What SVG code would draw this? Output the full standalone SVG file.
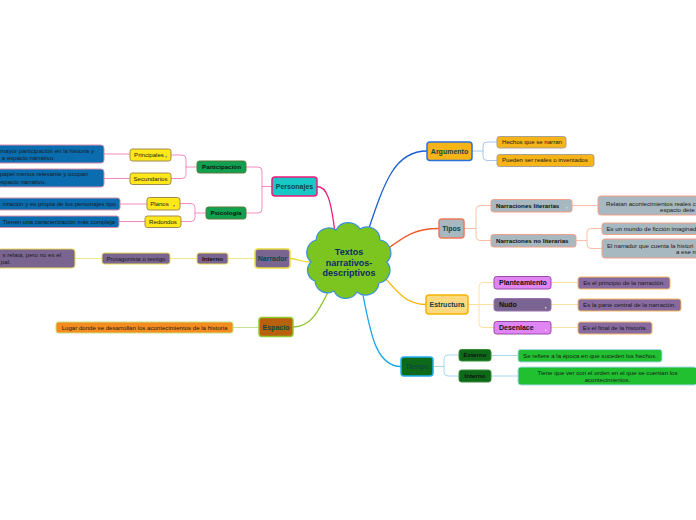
<svg xmlns="http://www.w3.org/2000/svg" width="696" height="520" viewBox="0 0 696 520">
<style>
text{font-family:"Liberation Sans",Arial,sans-serif}
.main{font-size:7px;font-weight:bold;fill:#0e4545;text-anchor:middle}
.l2{font-size:6.2px;font-weight:bold;fill:#111;text-anchor:middle}
.l2s{font-size:6.2px;font-weight:bold;fill:#111}
.lf{font-size:6.1px;fill:#1a1a1a;text-anchor:middle}
.lfe{font-size:6.1px;fill:#1a1a1a;text-anchor:end}
.lfs{font-size:6.1px;fill:#1a1a1a}
.con{fill:none;stroke-width:1.3;stroke-linecap:round}
.sub{fill:none;stroke-width:1;stroke-linecap:round}
</style>
<rect width="696" height="520" fill="#ffffff"/>
<g id="connectors">
<path class="con" stroke="#ee1a7a" d="M317 186.5 C327 186.5 331 200 335 233"/>
<path class="con" stroke="#e8d820" d="M290 258.5 C298 258.5 301 262 309 262"/>
<path class="con" stroke="#8ec228" d="M293 327 C312 327 319 310 330 288"/>
<path class="con" stroke="#1a5ed0" d="M367 234 C385 180 395 151 427 151"/>
<path class="con" stroke="#f05a28" d="M386 250 C405 236 415 228.5 439 228.5"/>
<path class="con" stroke="#f5b400" d="M386 279 C400 295 408 304.5 426 304.5"/>
<path class="con" stroke="#1aa8e8" d="M362 290 C370 330 375 366.5 401 366.5"/>
<g stroke="#f48cc0">
<path class="sub" d="M272 186.5 H262 M246 167 H258 Q262 167 262 171 V209 Q262 213 258 213 H246"/>
<path class="sub" d="M197 167 H186 M171 155 H182 Q186 155 186 159 V174.5 Q186 178.5 182 178.5 H171"/>
<path class="sub" d="M206 213 H195 M180 203.5 H191 Q195 203.5 195 207.5 V217.5 Q195 221.5 191 221.5 H181"/>
<path class="sub" d="M130 154 H104 M130 178.5 H104 M147 204 H120 M145 221.5 H119"/>
</g>
<path class="sub" stroke="#f3e98a" d="M255 258.5 H228 M197 258.5 H170 M102 258.5 H75"/>
<path class="sub" stroke="#c8e090" d="M259 327.5 H233"/>
<path class="sub" stroke="#a8c8f0" d="M472 151 H483 M497 142 H487 Q483 142 483 146 V156.5 Q483 160.5 487 160.5 H497"/>
<g stroke="#f8c0a8">
<path class="sub" d="M464 228.5 H476 M491 205.5 H480 Q476 205.5 476 209.5 V236.5 Q476 240.5 480 240.5 H491"/>
<path class="sub" d="M572 205.5 H598 M576 240.5 H587 M602 228.5 H591 Q587 228.5 587 232.5 V244.5 Q587 248.5 591 248.5 H602"/>
</g>
<g stroke="#fde0a0">
<path class="sub" d="M468 304.5 H479 M494 282.5 H483 Q479 282.5 479 286.5 V323.5 Q479 327.5 483 327.5 H494 M479 304.5 H494"/>
<path class="sub" d="M551 282.5 H578 M551 304.5 H578 M551 327.5 H578"/>
</g>
<g stroke="#a8d8f0">
<path class="sub" d="M433 366.5 H444 M459 355 H448 Q444 355 444 359 V372 Q444 376 448 376 H459"/>
<path class="sub" d="M491 355.5 H518 M491 376 H518"/>
</g>
</g>
<g id="center">
<path d="M311 262 A13 13 0 0 1 316 240 A13 13 0 0 1 336 230 A14 14 0 0 1 360 229 A13 13 0 0 1 380 240 A13 13 0 0 1 387 262 A13 13 0 0 1 379 283 A13.5 13.5 0 0 1 357 292 A13 13 0 0 1 334 291 A12.5 12.5 0 0 1 315 281 A11.5 11.5 0 0 1 311 262 Z" fill="#7cc520" stroke="#3a8fd6" stroke-width="1.2"/>
<text x="349" y="255" font-size="9" font-weight="bold" fill="#0b2a66" text-anchor="middle">Textos</text>
<text x="349" y="265.5" font-size="9" font-weight="bold" fill="#0b2a66" text-anchor="middle">narrativos-</text>
<text x="349" y="276" font-size="9" font-weight="bold" fill="#0b2a66" text-anchor="middle">descriptivos</text>
</g>
<g id="personajes">
<rect x="272" y="177" width="45" height="19" rx="3" fill="#18c8c4" stroke="#ee1a7a" stroke-width="1.5"/>
<text class="main" x="294.5" y="189">Personajes</text>
</g>
<g id="participacion">
<rect x="197" y="161" width="49" height="12" rx="2.5" fill="#10a050" stroke="#5a7a3a"/>
<text class="l2" x="221.5" y="169.2">Participación</text>
</g>
<g id="psicologia">
<rect x="206" y="207" width="40" height="12" rx="2.5" fill="#10a050" stroke="#5a7a3a"/>
<text class="l2" x="226" y="215.2">Psicología</text>
</g>
<g id="principales">
<rect x="130" y="149" width="41" height="12" rx="2.5" fill="#ffe81a" stroke="#a08a50"/>
<text class="lf" x="149" y="157.1">Principales</text>
<rect x="165.5" y="156" width="1.4" height="1.4" fill="#777"/>
</g>
<g id="secundarios">
<rect x="130" y="173" width="41" height="11.5" rx="2.5" fill="#ffe81a" stroke="#a08a50"/>
<text class="lf" x="150.5" y="180.8">Secundarios</text>
</g>
<g id="planos">
<rect x="147" y="197.5" width="33" height="12.5" rx="2.5" fill="#ffe81a" stroke="#a08a50"/>
<text class="lf" x="159.5" y="205.8">Planos</text>
<rect x="173.5" y="205" width="1.4" height="1.4" fill="#777"/>
</g>
<g id="redondos">
<rect x="145" y="216" width="36" height="11.5" rx="2.5" fill="#ffe81a" stroke="#a08a50"/>
<text class="lf" x="163" y="223.8">Redondos</text>
</g>
<g id="leaf-principales">
<rect x="-10" y="145" width="114" height="18" rx="3" fill="#0a6db0" stroke="#d88aa8"/>
<text class="lfe" x="94" y="153">mayor participación en la historia y</text>
<text class="lfe" x="55" y="159.8">a espacio narrativo.</text>
</g>
<g id="leaf-secundarios">
<rect x="-10" y="169" width="114" height="18" rx="3" fill="#0a6db0" stroke="#d88aa8"/>
<text class="lfe" x="88" y="176.4">papel menos relevante y ocupan</text>
<text class="lfe" x="46" y="183.6">espacio narrativo.</text>
</g>
<g id="leaf-planos">
<rect x="-10" y="198" width="130" height="12" rx="2.5" fill="#0a6db0" stroke="#d88aa8"/>
<text class="lfe" x="116" y="206">rización y es propia de los personajes tipo</text>
</g>
<g id="leaf-redondos">
<rect x="-4" y="216" width="123" height="11.5" rx="2.5" fill="#0a6db0" stroke="#d88aa8"/>
<text class="lfe" x="115" y="223.8">Tienen una caracterización más compleja</text>
</g>
<g id="narrador">
<rect x="255" y="249" width="35" height="19" rx="3" fill="#7a6591" stroke="#e8dc40" stroke-width="1.5"/>
<text class="main" x="272.5" y="261">Narrador</text>
</g>
<g id="interno-narrador">
<rect x="197" y="253" width="31" height="11" rx="2.5" fill="#7a6591" stroke="#e8d858"/>
<text class="l2" x="212.5" y="260.7">Interno</text>
</g>
<g id="protagonista">
<rect x="102" y="253" width="68" height="11" rx="2.5" fill="#7a6591" stroke="#e8d858"/>
<text class="lf" x="136" y="260.6">Protagonista o testigo</text>
</g>
<g id="leaf-narrador">
<rect x="-10" y="249" width="85" height="19" rx="3" fill="#7a6591" stroke="#e8d858"/>
<text class="lfe" x="61" y="257">s relata, pero no es el</text>
<text class="lfe" x="10.7" y="264.3">pal.</text>
</g>
<g id="espacio">
<rect x="259" y="317.5" width="34" height="19" rx="3" fill="#b8600c" stroke="#90c830" stroke-width="1.5"/>
<text class="main" x="276" y="329.5">Espacio</text>
</g>
<g id="leaf-espacio">
<rect x="56" y="322" width="177" height="11" rx="2.5" fill="#f58c20" stroke="#c8e080"/>
<text class="lf" x="144.5" y="329.6">Lugar donde se desarrollan los acontecimientos de la historia</text>
</g>
<g id="argumento">
<rect x="427" y="142" width="45" height="18.5" rx="3" fill="#f7b418" stroke="#2a70d8" stroke-width="1.5"/>
<text class="main" x="449.5" y="153.7">Argumento</text>
</g>
<g id="hechos">
<rect x="497" y="136.5" width="69" height="11.5" rx="2.5" fill="#f7b418" stroke="#a8a090"/>
<text class="lfs" x="502" y="144.3">Hechos que se narran</text>
</g>
<g id="pueden">
<rect x="497" y="154.5" width="97" height="12" rx="2.5" fill="#f7b418" stroke="#a8a090"/>
<text class="lfs" x="502" y="162.4">Pueden ser reales o inventados</text>
</g>
<g id="tipos">
<rect x="439" y="219" width="25" height="19" rx="3" fill="#a8b8c0" stroke="#f07858" stroke-width="1.5"/>
<text class="main" x="451.5" y="231">Tipos</text>
</g>
<g id="literarias">
<rect x="491" y="199.5" width="81" height="12.5" rx="2.5" fill="#a8b8c0" stroke="#f4a088"/>
<text class="l2s" x="496" y="207.8">Narraciones literarias</text>
<rect x="566" y="207" width="1.4" height="1.4" fill="#ddd"/>
</g>
<g id="no-literarias">
<rect x="491" y="234.5" width="85" height="12.5" rx="2.5" fill="#a8b8c0" stroke="#f4a088"/>
<text class="l2s" x="496" y="242.8">Narraciones no literarias</text>
</g>
<g id="leaf-literarias">
<rect x="598" y="196" width="110" height="19" rx="3" fill="#a8b8c0" stroke="#f4a088"/>
<text class="lfs" x="606" y="206">Relatan acontecimientos reales c</text>
<text class="lfs" x="660" y="212.3">espacio dete</text>
</g>
<g id="leaf-ficcion">
<rect x="602" y="223" width="106" height="11.5" rx="2.5" fill="#a8b8c0" stroke="#f4a088"/>
<text class="lfs" x="606.5" y="230.6">Es un mundo de ficción imaginad</text>
</g>
<g id="leaf-narrador-cuenta">
<rect x="602" y="239" width="106" height="19" rx="3" fill="#a8b8c0" stroke="#f4a088"/>
<text class="lfs" x="607" y="247.7">El narrador que cuenta la histori</text>
<text class="lfs" x="676" y="254.4">a ese m</text>
</g>
<g id="estructura">
<rect x="426" y="295" width="42" height="19" rx="3" fill="#ffd880" stroke="#f5b400" stroke-width="1.5"/>
<text class="main" x="447" y="307">Estructura</text>
</g>
<g id="planteamiento">
<rect x="494" y="276.5" width="57" height="12.5" rx="2.5" fill="#e184f4" stroke="#9a4aaa"/>
<text x="499" y="285.2" font-size="7" font-weight="bold" fill="#111">Planteamiento</text>
</g>
<g id="nudo">
<rect x="494" y="298.5" width="57" height="12.5" rx="2.5" fill="#7a6491" stroke="#9a70b0"/>
<text x="499" y="307" font-size="7" font-weight="bold" fill="#111">Nudo</text>
<rect x="545" y="307" width="1.4" height="1.4" fill="#ddd"/>
</g>
<g id="desenlace">
<rect x="494" y="321.5" width="57" height="12.5" rx="2.5" fill="#e184f4" stroke="#9a4aaa"/>
<text x="499" y="330" font-size="7" font-weight="bold" fill="#111">Desenlace</text>
<rect x="545" y="329.5" width="1.4" height="1.4" fill="#f0d8f8"/>
</g>
<g id="leaf-principio">
<rect x="578" y="277" width="92" height="12" rx="2.5" fill="#876aa0" stroke="#f5b860"/>
<text class="lf" x="624" y="285">Es el principio de la narración.</text>
</g>
<g id="leaf-central">
<rect x="578" y="299" width="103" height="12" rx="2.5" fill="#876aa0" stroke="#f5b860"/>
<text class="lf" x="629.5" y="307">Es la parte central de la narración.</text>
</g>
<g id="leaf-final">
<rect x="578" y="322" width="74" height="12" rx="2.5" fill="#876aa0" stroke="#f5b860"/>
<text class="lf" x="615" y="330">Es el final de la historia.</text>
</g>
<g id="tiempo">
<rect x="401" y="357" width="32" height="19" rx="3" fill="#0e6a18" stroke="#20b0f0" stroke-width="1.5"/>
<text x="417" y="369" font-size="7" fill="#0c4050" text-anchor="middle" font-family="Liberation Sans, Arial, sans-serif">Tiempo</text>
</g>
<g id="externo">
<rect x="459" y="349.5" width="32" height="11.5" rx="2.5" fill="#0e6a18" stroke="#3a8a3a"/>
<text class="l2" x="475" y="357.3">Externo</text>
</g>
<g id="interno-tiempo">
<rect x="459" y="370" width="32" height="12" rx="2.5" fill="#0e6a18" stroke="#3a8a3a"/>
<text class="l2" x="475" y="378.2">Interno</text>
</g>
<g id="leaf-externo">
<rect x="518" y="349.5" width="144" height="12.5" rx="2.5" fill="#20c030" stroke="#a8d8f0"/>
<text class="lf" x="590" y="357.8">Se refiere a la época en que suceden los hechos.</text>
</g>
<g id="leaf-interno">
<rect x="518" y="367" width="179" height="18" rx="3" fill="#20c030" stroke="#a8d8f0"/>
<text class="lf" x="607.5" y="375.3">Tiene que ver con el orden en el que se cuentan los</text>
<text class="lf" x="607.5" y="382">acontecimientos.</text>
</g>
</svg>
